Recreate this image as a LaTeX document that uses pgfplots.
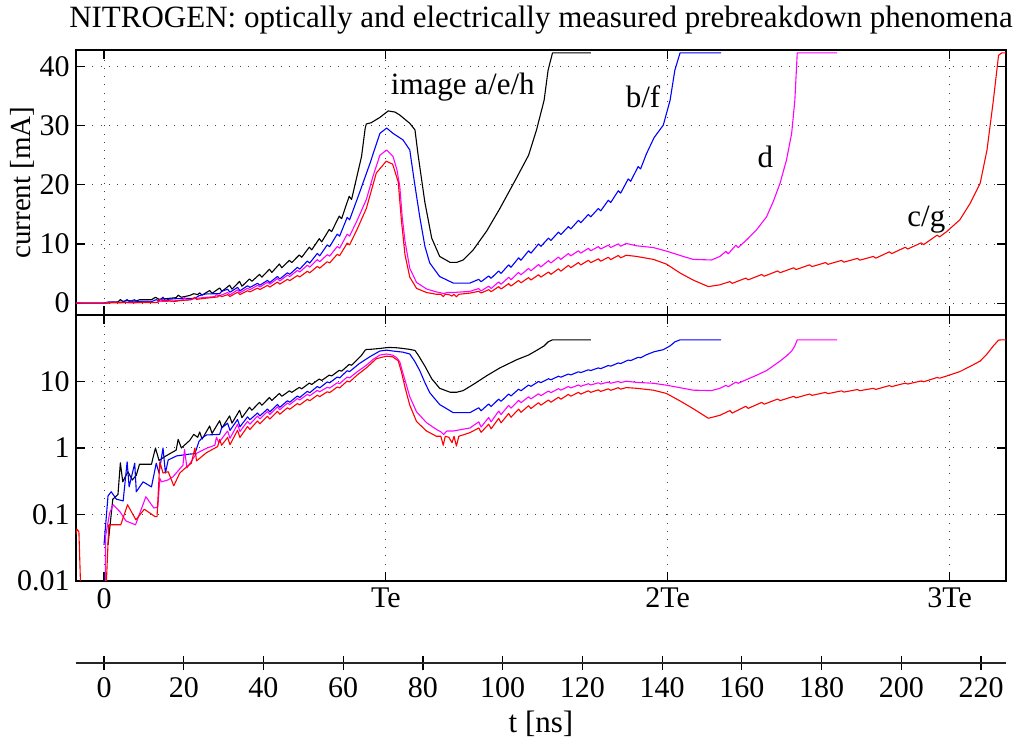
\documentclass[border=0pt]{standalone}
\usepackage{fontspec}
\setmainfont{Liberation Serif}
\usepackage{pgfplots}
\pgfplotsset{compat=1.18}
\usepackage{pgfplotstable}

\definecolor{cblue}{RGB}{0,0,255}
\definecolor{cmag}{RGB}{255,0,255}
\definecolor{cred}{RGB}{255,0,0}

\pgfplotstableread{
x y
-7.1 0
0.6 0
1.0 0.035
2.2 0.17
3.5 0.2
4.1 0.6
4.7 0.31
6.0 0.44
7.1 0.33
8.1 0.39
8.9 0.57
11.9 0.57
12.9 1.0
13.8 0.65
15.2 0.74
18.1 0.93
18.6 1.35
19.4 1.0
21.5 1.3
22.5 1.6
23.5 1.45
24 1.74
24.6 1.36
26.5 2.14
27.1 1.66
29 2.57
29.6 2.0
31.5 3.04
32.1 2.36
34 3.68
34.6 2.86
36.5 4.1
37.1 3.7
39 4.86
39.6 4.4
41.5 5.74
42.1 5.2
44 6.62
44.6 5.99
46.5 7.23
47.1 6.87
49 8.16
49.6 7.76
51.5 9.47
52.1 9.01
54 10.9
54.6 10.36
56.5 12.46
57.1 12.1
59 14.72
59.6 14.28
61.5 18.07
62.1 17.53
64.6 24.8
65.5 29.5
65.8 30.3
67 30.5
69.2 31.4
71.3 32.5
73 32.3
74.2 31.8
76.7 30.4
78 29.3
78.8 25.0
80.5 17.0
82.2 11.0
84.2 7.9
86.8 6.9
88.5 6.9
90.1 7.3
92.6 9.0
96 12.2
99.3 16.0
103.5 21.2
106.5 25
108.5 29.3
110.4 34.3
111.4 39.4
112.5 42.3
122.1 42.3
}\blackdata

\pgfplotstableread{
x y
-7.1 0
-0.3 0
0.0 0.035
1.0 0.19
1.8 0.22
3.1 0.17
4.8 0.16
5.8 0.62
6.3 0.26
7.7 0.59
8.1 0.22
9.8 0.31
11.9 0.26
13.1 0.59
13.8 0.42
14.8 1.0
15.4 0.42
16.1 0.66
18.2 0.76
21.5 0.81
22.8 0.82
23.8 1.25
24.5 1.4
25.7 1.57
29 1.6
29.5 2.0
31 2.36
31.6 1.84
33.5 2.68
34.1 2.08
36 2.94
36.6 2.66
38.5 3.36
39.1 3.04
41 3.85
41.6 3.49
43.5 4.52
44.1 4.09
46 5.13
46.6 4.88
48.5 6.05
49.1 5.75
51 7.12
51.6 6.78
53.5 8.41
54.1 8.0
56 9.85
56.6 9.55
58.5 11.67
59.1 11.33
61 14.51
61.6 14.09
64 18.5
66.7 23.6
69.2 28.7
70.9 29.6
72.5 28.7
75 27.6
76.7 25.9
77.9 20.3
79.2 14.6
80.5 9.6
81.7 6.8
84.2 4.5
87.6 3.4
91.8 3.4
94 4.03
94.6 3.63
96.5 4.6
97.1 4.2
99 5.43
99.6 5.03
101.5 6.47
102.1 6.07
104 7.66
104.6 7.26
106.5 8.85
107.1 8.45
109 10.0
109.6 9.6
111.5 11.0
112.1 10.6
114 12.0
114.6 11.6
116.5 12.95
117.1 12.55
119 14.0
119.6 13.6
121.5 15.0
122.1 14.6
124 16.0
124.6 15.6
126.5 17.4
127.1 17.0
129 19.0
129.6 18.6
131.5 21.0
132.1 20.6
134 23.1
134.6 22.7
136.1 25.3
138 28.0
140.3 30.1
142 34.3
143.2 39.4
144.5 42.3
154.8 42.3
}\bluedata

\pgfplotstableread{
x y
-7.1 0
0.2 0.001
0.4 0.047
1.4 0.105
2.3 0.14
4.0 0.11
5.5 0.08
7.9 0.07
10.5 0.185
12.5 0.125
13.5 0.13
14.0 0.35
14.4 0.31
16.0 0.33
17.3 0.37
19.8 0.55
20.2 0.95
20.8 0.5
23.2 0.83
25.7 0.99
27.8 1.1
28.2 1.45
28.8 1.2
31 1.8
31.6 1.4
33.5 2.27
34.1 1.77
36 2.52
36.6 2.28
38.5 3.02
39.1 2.74
41 3.54
41.6 3.2
43.5 4.15
44.1 3.75
46 4.74
46.6 4.5
48.5 5.54
49.1 5.27
51 6.41
51.6 6.09
53.5 7.36
54.1 7.0
56 8.19
56.6 7.95
58.5 9.57
59.1 9.29
61 11.67
61.6 11.33
63.5 14.0
65.8 17.5
67.5 21.5
69.2 25.0
70.9 25.9
72.5 24.8
73.5 22.5
74.2 19.7
74.8 14.6
75.5 10.5
76.7 5.9
78.4 3.5
80.9 2.4
83.4 1.9
84.5 1.75
85.2 1.6
86.0 1.8
87.6 1.8
91.8 2.0
94 2.47
94.6 2.07
96.5 2.87
97.1 2.47
99 3.59
99.6 3.19
101.5 4.37
102.1 3.97
104 5.2
104.6 4.8
106.5 5.88
107.1 5.48
109 6.53
109.6 6.13
111.5 7.19
112.1 6.79
114 7.8
114.6 7.4
116.5 8.4
117.1 8.0
119 8.86
119.6 8.46
121.5 9.26
122.1 8.86
124 9.56
124.6 9.16
126.5 9.81
127.1 9.41
129 10.02
129.6 9.62
131 10.1
133.6 9.7
137.8 9.4
141.1 8.8
145.3 7.9
147.8 7.4
152.4 7.3
154.5 7.9
156 8.75
156.6 8.35
158.5 9.8
159.1 9.4
161.2 10.7
163.7 12.4
166.2 14.6
167.9 17.2
169.6 20.3
171.2 24.2
172.5 28.7
173.3 34.3
173.9 42.3
183.9 42.3
}\magdata

\pgfplotstableread{
x y
-7.1 0.05
-6.8 0.06
-6.3 0.055
-5.4 0.001
-0.1 0.001
1.2 0.07
4.2 0.07
5.9 0.14
8.0 0.083
10.1 0.12
12.8 0.093
13.3 0.093
14.0 0.62
14.8 0.42
16.1 0.44
17.5 0.27
19.0 0.42
20.7 0.52
21.9 0.59
22.8 1.0
23.2 0.64
25.7 0.85
28.5 1.05
29.0 1.35
29.5 1.1
31 1.44
31.6 1.12
33.5 1.85
34.1 1.44
36 2.1
36.6 1.9
38.5 2.55
39.1 2.31
41 3.0
41.6 2.72
43.5 3.56
44.1 3.22
46 4.02
46.6 3.82
48.5 4.66
49.1 4.44
51 5.39
51.6 5.13
53.5 6.22
54.1 5.92
56 7.0
56.6 6.8
58.5 8.26
59.1 8.02
61 10.15
61.6 9.85
63.5 12.5
65.8 16.0
68.3 22.0
70.8 24.0
72.4 23.5
73.8 20.5
74.6 14.0
75.5 8.2
76.7 4.4
78.4 2.5
80.9 1.8
83.4 1.5
84.5 1.5
85.1 1.1
85.6 1.5
86.5 1.45
87.3 1.2
87.8 1.5
88.4 1.07
89.0 1.5
91.8 1.7
94 2.0
94.6 1.72
96.5 2.28
97.1 1.94
99 2.79
99.6 2.39
101.5 3.3
102.1 2.9
104 3.84
104.6 3.44
106.5 4.32
107.1 3.92
109 4.8
109.6 4.4
111.5 5.27
112.1 4.87
114 5.8
114.6 5.4
116.5 6.4
117.1 6.0
119 6.86
119.6 6.46
121.5 7.25
122.1 6.85
124 7.49
124.6 7.09
126.5 7.76
127.1 7.36
129 8.06
129.6 7.66
131 8.1
133.6 7.9
137.8 7.4
141.1 6.6
144.5 5.1
147.8 3.9
151.6 2.8
154.5 3.1
157 3.65
157.6 3.35
161 4.24
161.6 3.94
165 4.85
165.6 4.55
169 5.45
169.6 5.15
173 5.98
173.6 5.68
177 6.48
177.6 6.18
181 6.86
181.6 6.56
185 7.23
185.6 6.93
189 7.57
189.6 7.27
193 7.9
193.6 7.6
197 8.68
197.6 8.38
201 9.45
201.6 9.15
205 10.2
205.6 9.9
209 11.5
209.6 11.2
211.4 12.1
214.7 14.1
217.3 16.9
219.8 20.3
221.5 25.9
223.1 34.3
224.4 41.9
225.2 42.3
226.5 42.3
}\reddata

\pgfplotsset{
  base/.style={
    scale only axis, width=465pt,
    xmin=-7.03, xmax=226.27,
    xtick={0,70.7,141.4,212.1},
    grid=major,
    major grid style={black!75, line width=0.5pt, dash pattern=on 0.5pt off 3.6pt},
    axis line style={line width=1pt},
    tick align=inside,
    major tick length=4.5pt,
    tick style={black, line width=0.6pt},
    tick label style={font=\fontsize{15}{18}\selectfont},
    yticklabel style={inner xsep=0pt, xshift=-3pt},
    unbounded coords=jump,
    filter discard warning=false,
    /pgf/number format/assume math mode=true,
  },
  curve/.style={line width=0.55pt, line join=round},
}

\begin{document}
\begin{tikzpicture}[font=\fontsize{14.5}{17}\selectfont]
\path[use as bounding box] (-38pt,-78.5pt) rectangle (473.5pt,290.5pt);

\begin{axis}[base, at={(0,0)}, height=133pt,
  ymode=log, ymin=0.01, ymax=100,
  ytick={0.01,0.1,1,10}, yticklabels={0.01,0.1,1,10},
  yminorticks=false,
  xticklabels={0,Te,2Te,3Te}]
\addplot[curve, black] table {\blackdata};
\addplot[curve, cblue] table {\bluedata};
\addplot[curve, cmag] table {\magdata};
\addplot[curve, cred] table {\reddata};
\end{axis}

\begin{axis}[base, at={(0,133pt)}, height=132.5pt,
  ymin=-2, ymax=42.8,
  ytick={0,10,20,30,40}, yticklabels={0,10,20,30,40},
  xticklabels={},
  title={NITROGEN: optically and electrically measured prebreakdown phenomena},
  title style={yshift=-1.5pt, font=\fontsize{15.5}{18}\selectfont},
  ylabel={current [mA]},
  every axis y label/.style={at={(axis description cs:-0.0575,0.5)}, rotate=90, anchor=center}]
\addplot[curve, black] table {\blackdata};
\addplot[curve, cblue] table {\bluedata};
\addplot[curve, cmag] table {\magdata};
\addplot[curve, cred] table {\reddata};
\begin{scope}[font=\fontsize{15.5}{18}\selectfont]
\node at (axis cs:90,36.6) {image a/e/h};
\node at (axis cs:135.2,34.9) {b/f};
\node at (axis cs:165.9,24.8) {d};
\node at (axis cs:206.3,14.1) {c/g};
\end{scope}
\end{axis}

\begin{axis}[scale only axis, width=465pt, height=10pt, at={(0,-41pt)},
  xmin=-7.03, xmax=226.27, ymin=0, ymax=1,
  axis y line=none, axis x line*=bottom,
  x axis line style={line width=1.4pt, black!85},
  xtick={0,20,...,220}, tick align=center, major tick length=7pt,
  tick style={black, line width=0.6pt},
  tick label style={font=\fontsize{15}{18}\selectfont},
  xlabel={t [ns]},
  xlabel style={font=\fontsize{15.5}{18}\selectfont},
  /pgf/number format/assume math mode=true]
\end{axis}
\end{tikzpicture}
\end{document}
